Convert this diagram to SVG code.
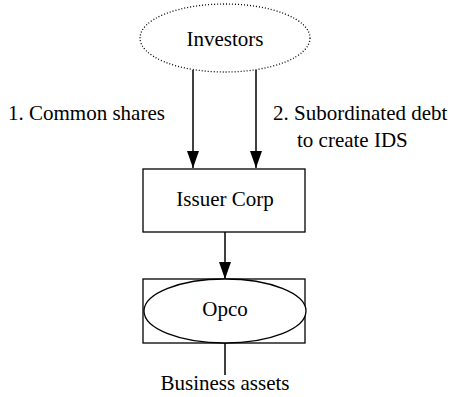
<svg xmlns="http://www.w3.org/2000/svg" width="464" height="397" viewBox="0 0 464 397">
<style>
.t{font-family:'Liberation Serif','DejaVu Serif','Noto Serif',serif;font-size:21px;fill:#000}
.ln{stroke:#000;stroke-width:1.5;fill:none}
.box{stroke:#000;stroke-width:1.3;fill:#fff}
</style>
<defs>
<marker id="arr" viewBox="0 0 17 12" refX="17" refY="6" markerWidth="17" markerHeight="12" markerUnits="userSpaceOnUse" orient="auto">
<path d="M0,0 L17,6 L0,12 Z" fill="#000"/>
</marker>
</defs>
<g id="connectors">
<line class="ln" x1="193" y1="70" x2="193" y2="168" marker-end="url(#arr)"/>
<line class="ln" x1="256" y1="70" x2="256" y2="168" marker-end="url(#arr)"/>
<line class="ln" x1="225" y1="232" x2="225" y2="279" marker-end="url(#arr)"/>
<line class="ln" x1="225" y1="343" x2="225" y2="375"/>
<text class="t" x="8" y="120">1. Common shares</text>
<text class="t" x="273" y="120">2. Subordinated debt</text>
<text class="t" x="297" y="147">to create IDS</text>
</g>
<g id="investors">
<ellipse cx="225" cy="38" rx="85" ry="34" fill="#fff" stroke="#000" stroke-width="1.3" stroke-dasharray="1 2"/>
<text class="t" x="225" y="46" text-anchor="middle">Investors</text>
</g>
<g id="issuer">
<rect class="box" x="143" y="169" width="162" height="63"/>
<text class="t" x="225" y="206" text-anchor="middle">Issuer Corp</text>
</g>
<g id="opco">
<rect class="box" x="143" y="279" width="162" height="64"/>
<ellipse cx="225" cy="311" rx="81" ry="32" class="box"/>
<text class="t" x="225" y="316" text-anchor="middle">Opco</text>
</g>
<g id="assets">
<text class="t" x="225" y="390" text-anchor="middle">Business assets</text>
</g>
</svg>
